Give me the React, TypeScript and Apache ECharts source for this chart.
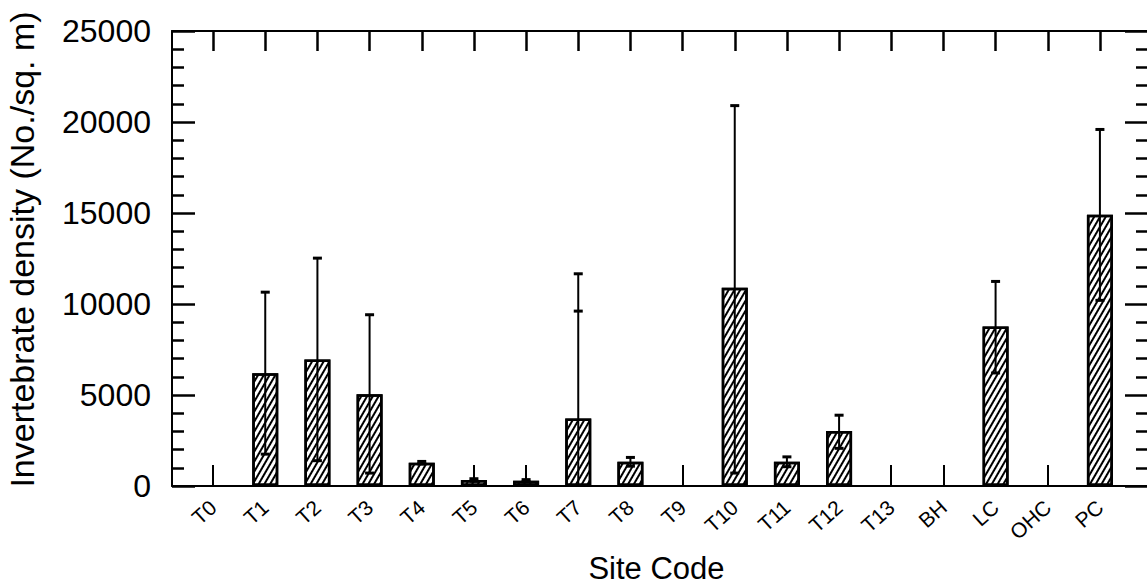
import React, { useEffect, useRef } from "react";
import * as echarts from "echarts";

const categories = ["T0", "T1", "T2", "T3", "T4", "T5", "T6", "T7", "T8", "T9", "T10", "T11", "T12", "T13", "BH", "LC", "OHC", "PC"];
const meanDensity = [0, 6200, 6950, 5040, 1280, 330, 290, 3710, 1330, 0, 10890, 1330, 3020, 0, 0, 8770, 0, 14910];
const errorUpper = [0, 10650, 12520, 9410, 1350, 400, 350, 11660, 1570, 0, 20900, 1600, 3890, 0, 0, 11240, 0, 19590];
const errorLower = [0, 1750, 1390, 710, 1210, 260, 230, 0, 1090, 0, 710, 1060, 2070, 0, 0, 6210, 0, 10200];
const innerCap: (number | null)[] = [null, null, null, null, null, null, null, 9610, null, null, null, null, null, null, null, null, null, null];
const yTicks = { min: 0, max: 25000, interval: 5000 };

const FONT = "'Liberation Sans', Arial, Helvetica, sans-serif";

export default function App() {
  const ref = useRef<HTMLDivElement>(null);
  useEffect(() => {
    if (!ref.current) return;
    const chart = echarts.init(ref.current, undefined, { renderer: "svg" });
    const frameTop = 31;
    const frameH = 455;
    const errData = categories.map((_, i) => [
      i,
      meanDensity[i],
      errorUpper[i],
      errorLower[i],
      innerCap[i] == null ? NaN : innerCap[i],
    ]).filter((d) => (d[1] as number) > 0);

    const frameAxisX = {
      type: "value",
      gridIndex: 0,
      min: 0,
      max: 1,
      axisLine: { show: true, onZero: false, lineStyle: { color: "#000", width: 2 } },
      axisTick: { show: false },
      axisLabel: { show: false },
      splitLine: { show: false },
    };
    const valueAxisCommon = {
      type: "value",
      gridIndex: 0,
      min: yTicks.min,
      max: yTicks.max,
      interval: yTicks.interval,
      axisLine: { show: true, onZero: false, lineStyle: { color: "#000", width: 2 } },
      axisTick: { show: true, inside: true, length: 23, lineStyle: { color: "#000", width: 2.5 } },
      minorTick: { show: true, splitNumber: 5, length: 12, lineStyle: { color: "#000", width: 2.5 } },
      splitLine: { show: false },
      minorSplitLine: { show: false },
    };

    chart.setOption({
      animation: false,
      backgroundColor: "#fff",
      textStyle: { fontFamily: FONT },
      grid: [
        { left: 172, top: frameTop, width: 976, height: frameH, containLabel: false, outerBoundsMode: "none" },
        { left: 187, top: frameTop, width: 939, height: frameH, containLabel: false, outerBoundsMode: "none" },
      ],
      xAxis: [
        { ...frameAxisX, position: "bottom" },
        { ...frameAxisX, position: "top" },
        {
          type: "category",
          gridIndex: 1,
          position: "bottom",
          data: categories,
          axisLine: { show: false, onZero: false },
          axisTick: { show: true, inside: true, length: 21, alignWithLabel: true, interval: 0, lineStyle: { color: "#000", width: 2 } },
          axisLabel: { interval: 0, rotate: 42, margin: 18, fontSize: 21, color: "#000", fontFamily: FONT },
          name: "Site Code",
          nameLocation: "middle",
          nameGap: 67,
          nameTextStyle: { fontSize: 31, color: "#000", fontFamily: FONT },
        },
        {
          type: "category",
          gridIndex: 1,
          position: "top",
          data: categories,
          axisLine: { show: false, onZero: false },
          axisTick: { show: true, inside: true, length: 20, alignWithLabel: true, interval: 0, lineStyle: { color: "#000", width: 2.5 } },
          axisLabel: { show: false },
        },
      ],
      yAxis: [
        {
          ...valueAxisCommon,
          position: "left",
          axisLabel: { show: true, margin: 21, fontSize: 32, color: "#000", fontFamily: FONT, formatter: (v: number) => String(v) },
          name: "Invertebrate density (No./sq. m)",
          nameLocation: "middle",
          nameGap: 133,
          nameTextStyle: { fontSize: 34, color: "#000", fontFamily: FONT, padding: [0, 0, 0, 18] },
        },
        {
          ...valueAxisCommon,
          position: "right",
          axisLabel: { show: false },
        },
        {
          type: "value",
          gridIndex: 1,
          min: yTicks.min,
          max: yTicks.max,
          show: false,
        },
      ],
      series: [
        {
          type: "bar",
          xAxisIndex: 2,
          yAxisIndex: 2,
          data: meanDensity.map((v) => (v > 0 ? v : null)),
          barWidth: 26,
          itemStyle: {
            color: "#fff",
            borderColor: "#000",
            borderWidth: 2.5,
            decal: {
              symbol: "rect",
              symbolSize: 1,
              dashArrayX: [1, 0],
              dashArrayY: [1.5, 2.2],
              rotation: -Math.PI / 3,
              color: "#000",
              backgroundColor: "#fff",
            },
          },
        },
        {
          type: "custom",
          xAxisIndex: 2,
          yAxisIndex: 2,
          data: errData,
          encode: { x: 0, y: [1, 2, 3] },
          z: 5,
          renderItem: (params: any, api: any) => {
            const i = api.value(0);
            const hi = api.value(2);
            const lo = api.value(3);
            const inner = api.value(4);
            const top = api.coord([i, hi]);
            const bot = api.coord([i, lo]);
            const x = top[0];
            const capHalf = 4.5;
            const stroke = { stroke: "#000", lineWidth: 2 };
            const capStroke = { stroke: "#000", lineWidth: 3 };
            const children: any[] = [
              { type: "line", shape: { x1: x, y1: top[1], x2: x, y2: bot[1] }, style: stroke },
              { type: "line", shape: { x1: x - capHalf, y1: top[1], x2: x + capHalf, y2: top[1] }, style: capStroke },
            ];
            if (lo > 0) {
              children.push({ type: "line", shape: { x1: x - capHalf, y1: bot[1], x2: x + capHalf, y2: bot[1] }, style: capStroke });
            }
            if (!isNaN(inner)) {
              const p = api.coord([i, inner]);
              children.push({ type: "line", shape: { x1: x - capHalf, y1: p[1], x2: x + capHalf, y2: p[1] }, style: capStroke });
            }
            return { type: "group", children };
          },
        },
      ],
    });
    return () => chart.dispose();
  }, []);

  return (
    <div style={{ position: "fixed", left: 0, top: 0, width: 1147, height: 586, overflow: "hidden", background: "#fff" }}>
      <div ref={ref} style={{ width: 1160, height: 586 }} />
    </div>
  );
}
